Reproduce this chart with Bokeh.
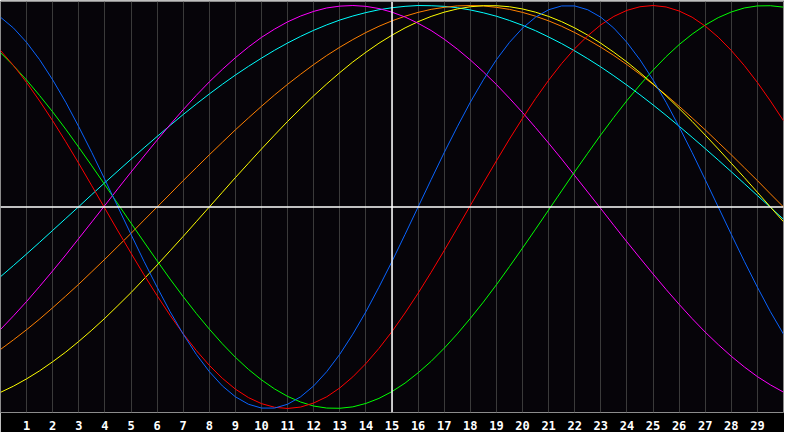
from bokeh.plotting import figure
from bokeh.models import Span, FixedTicker
from bokeh.embed import file_html
from bokeh.resources import INLINE

# half-day steps from day 0 to day 30, labelled ticks 1..29
days = [i / 2 for i in range(61)]
tick_days = list(range(1, 30))
today = 15

# cycle values every half day (-1 .. 1)
physical = [0.942, 0.888, 0.817, 0.731, 0.631, 0.520, 0.398, 0.270, 0.136, 0.0,
            -0.136, -0.270, -0.398, -0.520, -0.631, -0.731, -0.817, -0.888, -0.942, -0.979,
            -0.998, -0.998, -0.979, -0.942, -0.888, -0.817, -0.731, -0.631, -0.520, -0.398,
            -0.270, -0.136, 0.0, 0.136, 0.270, 0.398, 0.520, 0.631, 0.731, 0.817,
            0.888, 0.942, 0.979, 0.998, 0.998, 0.979, 0.942, 0.888, 0.817, 0.731,
            0.631, 0.520, 0.398, 0.270, 0.136, 0.0, -0.136, -0.270, -0.398, -0.520, -0.631]
emotional = [0.777, 0.702, 0.618, 0.526, 0.428, 0.324, 0.216, 0.105, -0.007, -0.119,
             -0.229, -0.337, -0.440, -0.538, -0.629, -0.712, -0.786, -0.850, -0.904, -0.946,
             -0.976, -0.994, -1.0, -0.993, -0.973, -0.942, -0.898, -0.843, -0.777, -0.702,
             -0.618, -0.526, -0.428, -0.324, -0.216, -0.105, 0.007, 0.119, 0.229, 0.337,
             0.440, 0.538, 0.629, 0.712, 0.786, 0.850, 0.904, 0.946, 0.976, 0.994,
             1.0, 0.993, 0.973, 0.942, 0.898, 0.843, 0.777, 0.702, 0.618, 0.526, 0.428]
intellectual = [0.766, 0.701, 0.630, 0.553, 0.472, 0.386, 0.296, 0.204, 0.110, 0.015,
                -0.080, -0.174, -0.267, -0.358, -0.445, -0.528, -0.606, -0.679, -0.746, -0.806,
                -0.858, -0.903, -0.940, -0.968, -0.988, -0.998, -0.999, -0.992, -0.975, -0.950,
                -0.916, -0.874, -0.823, -0.766, -0.701, -0.630, -0.553, -0.472, -0.386, -0.296,
                -0.204, -0.110, -0.015, 0.080, 0.175, 0.267, 0.358, 0.445, 0.528, 0.606,
                0.679, 0.746, 0.806, 0.858, 0.903, 0.940, 0.968, 0.988, 0.998, 0.999, 0.992]
intuitive = [-0.608, -0.540, -0.469, -0.394, -0.317, -0.238, -0.156, -0.074, 0.008, 0.091,
             0.173, 0.253, 0.332, 0.409, 0.483, 0.554, 0.621, 0.683, 0.741, 0.794,
             0.842, 0.883, 0.919, 0.948, 0.971, 0.988, 0.997, 1.0, 0.996, 0.985,
             0.967, 0.943, 0.912, 0.876, 0.833, 0.784, 0.730, 0.671, 0.608, 0.540,
             0.469, 0.394, 0.317, 0.238, 0.156, 0.074, -0.008, -0.091, -0.173, -0.253,
             -0.332, -0.409, -0.483, -0.554, -0.621, -0.683, -0.741, -0.794, -0.842, -0.883, -0.919]
aesthetic = [-0.920, -0.889, -0.853, -0.813, -0.768, -0.720, -0.667, -0.611, -0.552, -0.489,
             -0.425, -0.357, -0.288, -0.217, -0.146, -0.073, 0.0, 0.073, 0.146, 0.217,
             0.288, 0.357, 0.425, 0.489, 0.552, 0.611, 0.667, 0.720, 0.768, 0.813,
             0.853, 0.889, 0.920, 0.946, 0.967, 0.983, 0.994, 0.999, 0.999, 0.994,
             0.983, 0.967, 0.946, 0.920, 0.889, 0.853, 0.813, 0.768, 0.720, 0.667,
             0.611, 0.552, 0.489, 0.425, 0.357, 0.288, 0.217, 0.146, 0.073, 0.0, -0.073]
awareness = [-0.707, -0.659, -0.609, -0.556, -0.500, -0.442, -0.383, -0.321, -0.259, -0.195,
             -0.131, -0.065, 0.0, 0.065, 0.131, 0.195, 0.259, 0.321, 0.383, 0.442,
             0.500, 0.556, 0.609, 0.659, 0.707, 0.752, 0.793, 0.831, 0.866, 0.897,
             0.924, 0.947, 0.966, 0.981, 0.991, 0.998, 1.0, 0.998, 0.991, 0.981,
             0.966, 0.947, 0.924, 0.897, 0.866, 0.831, 0.793, 0.752, 0.707, 0.659,
             0.609, 0.556, 0.500, 0.442, 0.383, 0.321, 0.259, 0.195, 0.131, 0.065, 0.0]
spiritual = [-0.346, -0.290, -0.233, -0.175, -0.116, -0.057, 0.002, 0.062, 0.121, 0.179,
             0.237, 0.294, 0.350, 0.405, 0.459, 0.511, 0.561, 0.609, 0.655, 0.698,
             0.739, 0.778, 0.814, 0.847, 0.877, 0.904, 0.928, 0.948, 0.965, 0.979,
             0.989, 0.996, 1.0, 0.999, 0.996, 0.989, 0.978, 0.964, 0.947, 0.926,
             0.902, 0.875, 0.844, 0.811, 0.775, 0.736, 0.695, 0.651, 0.605, 0.557,
             0.507, 0.455, 0.401, 0.346, 0.290, 0.233, 0.175, 0.116, 0.057, -0.002, -0.061]

series = [
    (spiritual, "#00ffff"),
    (awareness, "#ff8000"),
    (aesthetic, "#ffff00"),
    (intuitive, "#ff00ff"),
    (intellectual, "#00ff00"),
    (emotional, "#ff0000"),
    (physical, "#0a64ff"),
]

p = figure(width=784, height=432, x_range=(0, 30), y_range=(-1.02, 1.02),
           output_backend="svg", toolbar_location=None, y_axis_location=None,
           min_border_left=0, min_border_right=1, min_border_top=1, min_border_bottom=20)
p.background_fill_color = "#060409"
p.border_fill_color = "#000000"
p.outline_line_color = "#8c8c8c"
p.outline_line_width = 1

p.xaxis.ticker = FixedTicker(ticks=tick_days)
p.xaxis.axis_line_color = None
p.xaxis.major_tick_line_color = None
p.xaxis.minor_tick_line_color = None
p.xaxis.major_label_text_color = "white"
p.xaxis.major_label_text_font = "DejaVu Sans Mono"
p.xaxis.major_label_text_font_style = "bold"
p.xaxis.major_label_text_font_size = "12px"
p.xaxis.major_label_standoff = 2

p.xgrid.ticker = FixedTicker(ticks=tick_days)
p.xgrid.grid_line_color = "#3a3a3a"
p.ygrid.grid_line_color = None

p.add_layout(Span(location=0, dimension="width", line_color="white", line_width=1.5))
p.add_layout(Span(location=today, dimension="height", line_color="white", line_width=1.5))

for vals, color in series:
    p.line(days, vals, line_color=color, line_width=1)

open("out.html", "w").write(file_html(p, INLINE))
